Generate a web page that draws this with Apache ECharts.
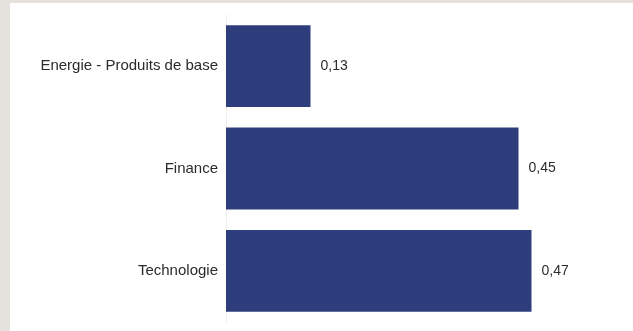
<!DOCTYPE html>
<html>
<head>
<meta charset="utf-8">
<script src="https://cdn.jsdelivr.net/npm/echarts@6/dist/echarts.min.js"></script>
<style>
  html, body { margin: 0; padding: 0; width: 633px; height: 331px; background: #e5e1dc; overflow: hidden; }
  #chart { position: absolute; left: 10px; top: 3px; width: 623px; height: 328px; background: #ffffff; }
</style>
</head>
<body>
<div id="chart"></div>
<script>
// Sector contributions
const categories = ['Energie - Produits de base', 'Finance', 'Technologie'];
const values = [0.13, 0.45, 0.47];

const chart = echarts.init(document.getElementById('chart'));
const fontFamily = '"Liberation Sans", Arial, sans-serif';

chart.setOption({
  animation: false,
  grid: { left: 216, right: 17, top: 12, bottom: 9, containLabel: false },
  xAxis: {
    type: 'value',
    min: 0,
    max: 0.6,
    show: false
  },
  yAxis: {
    type: 'category',
    inverse: true,
    data: categories,
    axisLine: { show: true, lineStyle: { color: '#eeeeee', width: 1 } },
    axisTick: { show: false },
    axisLabel: { color: '#2b2b2b', fontSize: 15, fontFamily: fontFamily, margin: 8, padding: [4, 0, 0, 0] }
  },
  series: [{
    type: 'bar',
    data: values,
    barCategoryGap: '20%',
    itemStyle: { color: '#2e3d7c' },
    label: {
      show: true,
      position: 'right',
      distance: 10,
      color: '#2b2b2b',
      fontSize: 14,
      fontFamily: fontFamily,
      padding: [2, 0, 0, 0],
      formatter: p => p.value.toFixed(2).replace('.', ',')
    }
  }]
});
</script>
</body>
</html>
